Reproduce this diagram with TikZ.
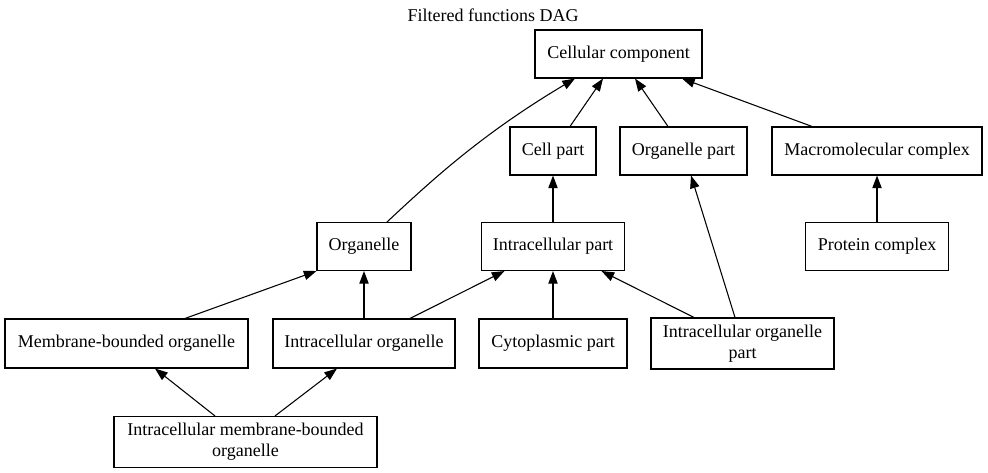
\documentclass[tikz,border=0pt]{standalone}
\usepackage{fontspec}
\setmainfont{Liberation Serif}
\usepackage{tikz}
\usetikzlibrary{arrows.meta,calc}

\begin{document}
\begin{tikzpicture}[x=0.75pt,y=-0.75pt,
    box/.style={draw, rectangle, line width=0.8pt, inner sep=2pt, align=center,
                font=\fontsize{13.5}{15.75}\selectfont},
    edge/.style={line width=0.8pt, -{Triangle[length=9.5pt,width=7pt]}}]
    \useasboundingbox (0,0) rectangle (988,473);
    \node[font=\fontsize{13.5}{15.75}\selectfont] (title) at (493,15) {Filtered functions DAG};
    \node[box, minimum width=125.25pt, minimum height=36pt] (cc) at (618.5,54) {Cellular component};
    \node[box, minimum width=64.5pt, minimum height=36pt] (cell) at (553,151) {Cell part};
    \node[box, minimum width=95.25pt, minimum height=36pt] (orgpart) at (683.5,151) {Organelle part};
    \node[box, minimum width=157.5pt, minimum height=36pt] (macro) at (877,151) {Macromolecular complex};
    \node[box, minimum width=70.5pt, minimum height=36pt] (organelle) at (364,246.5) {Organelle};
    \node[box, minimum width=107.25pt, minimum height=36pt] (intrapart) at (553,246.5) {Intracellular part};
    \node[box, minimum width=107.25pt, minimum height=36pt] (protein) at (877,246.5) {Protein complex};
    \node[box, minimum width=182.25pt, minimum height=36.75pt] (mbo) at (126.5,343.5) {Membrane-bounded organelle};
    \node[box, minimum width=136.5pt, minimum height=36.75pt] (io) at (364,343.5) {Intracellular organelle};
    \node[box, minimum width=111pt, minimum height=36.75pt] (cyto) at (553,343.5) {Cytoplasmic part};
    \node[box, minimum width=137.25pt, minimum height=38.25pt] (iop) at (742.5,343.5) {Intracellular organelle\\part};
    \node[box, minimum width=197.25pt, minimum height=38.25pt] (imbo) at (245.5,442) {Intracellular membrane-bounded\\organelle};

    \draw[edge] ($(cell.north)+(17,0)$) -- ($(cc.south)+(-15.5,0)$);
    \draw[edge] ($(orgpart.north)+(-15.5,0)$) -- ($(cc.south)+(16.5,0)$);
    \draw[edge] ($(macro.north)+(-65,0)$) -- ($(cc.south)+(63.5,0)$);
    \draw[edge] ($(organelle.north)+(23,0)$) .. controls (430,182) and (480,135) .. ($(cc.south)+(-43.5,0)$);
    \draw[edge] (intrapart.north) -- (cell.south);
    \draw[edge] ($(iop.north)+(-7.5,0)$) -- ($(orgpart.south)+(7.5,0)$);
    \draw[edge] (protein.north) -- (macro.south);
    \draw[edge] ($(mbo.north)+(58.5,0)$) -- (organelle.south west);
    \draw[edge] (io.north) -- (organelle.south);
    \draw[edge] ($(io.north)+(46,0)$) -- ($(intrapart.south)+(-48.5,0)$);
    \draw[edge] (cyto.north) -- (intrapart.south);
    \draw[edge] ($(iop.north)+(-48.5,0)$) -- ($(intrapart.south)+(48.5,0)$);
    \draw[edge] ($(imbo.north)+(-30.5,0)$) -- ($(mbo.south)+(28.5,0)$);
    \draw[edge] ($(imbo.north)+(29.5,0)$) -- ($(io.south)+(-27,0)$);
\end{tikzpicture}
\end{document}
